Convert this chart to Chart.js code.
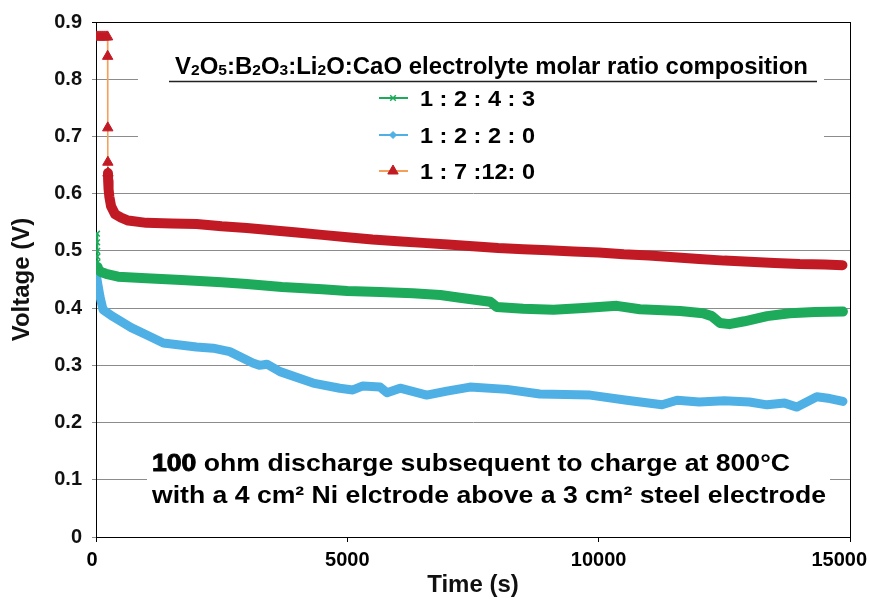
<!DOCTYPE html>
<html>
<head>
<meta charset="utf-8">
<script src="https://cdn.jsdelivr.net/npm/chart.js@4.4.1/dist/chart.umd.min.js"></script>
<style>
  html, body { margin: 0; padding: 0; background: #fff; }
  #wrap { width: 870px; height: 600px; }
</style>
</head>
<body>
<div id="wrap"><canvas id="myCanvas" width="870" height="600"></canvas></div>
<script>
// values (time in s, voltage in V)
const greenTime = [20, 22, 24, 26, 28, 32, 50, 100, 200, 440, 1000, 1700, 2500, 3000, 3700, 4500, 5000, 5650, 6300, 6850, 7240, 7840, 7900, 7970, 8500, 9100, 9700, 10000, 10360, 10820, 11620, 12075, 12250, 12414, 12600, 12900, 13350, 13800, 14300, 14860];
const greenVolt = [0.53, 0.515, 0.5, 0.49, 0.48, 0.472, 0.467, 0.463, 0.46, 0.455, 0.452, 0.449, 0.445, 0.442, 0.437, 0.433, 0.43, 0.428, 0.426, 0.423, 0.418, 0.411, 0.407, 0.402, 0.399, 0.397, 0.4, 0.402, 0.404, 0.398, 0.395, 0.391, 0.386, 0.374, 0.372, 0.377, 0.386, 0.391, 0.393, 0.394];

const blueTime = [0, 40, 80, 140, 340, 700, 1010, 1340, 2000, 2330, 2660, 3120, 3250, 3400, 3660, 4320, 4850, 5110, 5310, 5650, 5790, 6050, 6580, 6980, 7440, 8175, 8830, 9830, 10560, 11260, 11560, 12000, 12500, 13000, 13350, 13700, 13945, 14340, 14600, 14860];
const blueVolt = [0.461, 0.44, 0.42, 0.397, 0.385, 0.366, 0.353, 0.339, 0.332, 0.33, 0.324, 0.304, 0.3, 0.302, 0.289, 0.269, 0.26, 0.257, 0.264, 0.262, 0.252, 0.26, 0.248, 0.255, 0.262, 0.258, 0.25, 0.248, 0.239, 0.231, 0.239, 0.236, 0.238, 0.236, 0.231, 0.234, 0.227, 0.245, 0.242, 0.237];

const redTime = [0, 40, 80, 120, 160, 200, 230, 232, 234, 236, 238, 242, 250, 265, 300, 380, 500, 640, 1000, 1500, 2000, 2500, 3000, 3500, 4000, 4500, 5000, 5500, 6000, 6500, 7000, 7500, 8000, 8500, 9000, 9500, 10000, 10500, 11000, 11500, 12000, 12500, 13000, 13500, 14000, 14500, 14850];
const redVolt = [0.874, 0.874, 0.874, 0.874, 0.874, 0.874, 0.874, 0.84, 0.715, 0.655, 0.636, 0.622, 0.608, 0.595, 0.578, 0.564, 0.558, 0.553, 0.549, 0.548, 0.547, 0.543, 0.54, 0.536, 0.532, 0.528, 0.524, 0.52, 0.517, 0.514, 0.511, 0.508, 0.505, 0.503, 0.501, 0.499, 0.497, 0.494, 0.492, 0.489, 0.486, 0.483, 0.481, 0.479, 0.477, 0.476, 0.475];

const seriesLabels = ['1 : 2 : 4 : 3', '1 : 2 : 2 : 0', '1 : 7 :12: 0'];
const legendTitle = [['V', 0], ['2', 1], ['O', 0], ['5', 1], [':B', 0], ['2', 1], ['O', 0], ['3', 1], [':Li', 0], ['2', 1], ['O:CaO electrolyte molar ratio composition', 0]];
const noteLine1 = [['100', 1], [' ohm discharge subsequent to charge at 800°C', 0]];
const noteLine2 = 'with a 4 cm² Ni elctrode above a 3 cm² steel electrode';

const FONT = "'Liberation Sans', Arial, sans-serif";
const GREEN = '#1daa5a', BLUE = '#4fb0e5', RED = '#c21a24', ORANGE = '#f5a05a';

const toPoints = (ts, vs) => ts.map((t, i) => ({ x: t, y: vs[i] }));

// draw a row of text runs squeezed to a given width
function drawRuns(ctx, runs, x, y, width) {
  let total = 0;
  runs.forEach(r => { ctx.font = r.font; r.w = ctx.measureText(r.text).width; total += r.w; });
  ctx.save();
  ctx.translate(x, y);
  ctx.scale(width / total, 1);
  let cx = 0;
  runs.forEach(r => {
    ctx.font = r.font;
    ctx.fillText(r.text, cx, r.dy || 0);
    if (r.heavy) { ctx.lineWidth = 0.9; ctx.strokeText(r.text, cx, r.dy || 0); }
    cx += r.w;
  });
  ctx.restore();
}

const overlay = {
  id: 'overlay',
  beforeDatasetsDraw(chart) {
    const ctx = chart.ctx;
    const a = chart.chartArea;
    ctx.save();
    // frame
    ctx.strokeStyle = '#000';
    ctx.lineWidth = 1;
    ctx.strokeRect(Math.round(a.left) + 0.5, Math.round(a.top) + 0.5, Math.round(a.right - a.left), Math.round(a.bottom - a.top));

    // legend box
    ctx.fillStyle = '#fff';
    ctx.fillRect(138, 40, 686, 148);
    ctx.fillStyle = '#000';
    ctx.textBaseline = 'alphabetic';
    ctx.textAlign = 'left';
    drawRuns(ctx, legendTitle.map(([t, sub]) => ({
      text: t, font: sub ? `bold 15px ${FONT}` : `bold 23px ${FONT}`, dy: sub ? 1 : 0
    })), 175, 74, 633);
    ctx.strokeStyle = '#222';
    ctx.lineWidth = 1.5;
    ctx.beginPath(); ctx.moveTo(169, 81.5); ctx.lineTo(817, 81.5); ctx.stroke();

    const rows = [98, 135, 171];
    const lineCols = [GREEN, BLUE, ORANGE];
    const marks = [
      { pointStyle: 'crossRot', radius: 4, borderWidth: 1.5, fill: GREEN, stroke: GREEN },
      { pointStyle: 'rectRot', radius: 3.5, borderWidth: 1, fill: BLUE, stroke: BLUE },
      { pointStyle: 'triangle', radius: 6, borderWidth: 1, fill: RED, stroke: RED }
    ];
    rows.forEach((y, i) => {
      ctx.strokeStyle = lineCols[i];
      ctx.lineWidth = 2;
      ctx.beginPath(); ctx.moveTo(379, y); ctx.lineTo(408, y); ctx.stroke();
      const m = marks[i];
      ctx.fillStyle = m.fill; ctx.strokeStyle = m.stroke; ctx.lineWidth = m.borderWidth;
      Chart.helpers.drawPoint(ctx, m, 393, y);
      ctx.fillStyle = '#000';
      drawRuns(ctx, [{ text: seriesLabels[i], font: `bold 22px ${FONT}` }], 420, y + 8, 115);
    });

    // note box
    ctx.fillStyle = '#fff';
    ctx.fillRect(147, 442, 683, 80);
    ctx.fillStyle = '#000';
    ctx.strokeStyle = '#000';
    drawRuns(ctx, noteLine1.map(([t, heavy]) => ({ text: t, font: `bold 24px ${FONT}`, heavy: !!heavy })), 152, 471, 638);
    drawRuns(ctx, [{ text: noteLine2, font: `bold 24px ${FONT}` }], 152, 503, 674);

    // x tick labels, kept inside the canvas like the original
    const xs = chart.scales.x;
    ctx.font = `bold 20px ${FONT}`;
    ctx.textAlign = 'center';
    ctx.textBaseline = 'middle';
    xs.ticks.forEach(t => {
      const label = String(t.value);
      const w = ctx.measureText(label).width;
      let cx = xs.getPixelForValue(t.value);
      if (cx + w / 2 > 867) cx = 867 - w / 2;
      if (t.value === 0) cx -= 4;
      ctx.fillText(label, cx, 560);
    });
    ctx.restore();
  }
};

const ctx = document.getElementById('myCanvas').getContext('2d');

new Chart(ctx, {
  type: 'line',
  data: {
    datasets: [
      {
        label: seriesLabels[0],
        data: toPoints(greenTime, greenVolt),
        borderColor: GREEN,
        borderWidth: 10,
        pointStyle: 'crossRot',
        pointBorderColor: GREEN,
        pointBackgroundColor: GREEN,
        pointBorderWidth: 1.5,
        pointRadius: c => (c.raw && c.raw.y > 0.468 ? 4 : 0),
        segment: {
          borderWidth: c => (c.p0.parsed.y > 0.475 ? 2 : 10)
        }
      },
      {
        label: seriesLabels[1],
        data: toPoints(blueTime, blueVolt),
        borderColor: BLUE,
        borderWidth: 9,
        pointRadius: 0
      },
      {
        label: seriesLabels[2],
        data: toPoints(redTime, redVolt),
        borderColor: RED,
        borderWidth: 10,
        pointStyle: 'triangle',
        pointBackgroundColor: RED,
        pointBorderColor: RED,
        pointBorderWidth: 1,
        pointRadius: c => (c.raw && c.raw.y > 0.63 ? 6 : 0),
        segment: {
          borderWidth: c => (c.p0.parsed.y > 0.64 ? 1.5 : 10),
          borderColor: c => (c.p0.parsed.y > 0.64 ? ORANGE : RED)
        }
      }
    ]
  },
  options: {
    responsive: false,
    devicePixelRatio: 1,
    animation: false,
    events: [],
    layout: { padding: { top: 21, right: 20, left: 0, bottom: 0 } },
    elements: {
      line: { tension: 0, borderJoinStyle: 'round', borderCapStyle: 'round', fill: false }
    },
    plugins: {
      legend: { display: false },
      tooltip: { enabled: false }
    },
    scales: {
      x: {
        type: 'linear',
        min: 0,
        max: 15000,
        ticks: { stepSize: 5000, display: false },
        grid: { drawOnChartArea: false, drawTicks: true, tickLength: 5, color: '#000' },
        border: { color: '#000', width: 1 },
        title: {
          display: true,
          text: 'Time (s)',
          color: '#111',
          font: { family: FONT, size: 24, weight: 'bold' },
          padding: { top: 0, bottom: 0 }
        },
        afterFit: s => { s.height = 63; s.paddingLeft = 0; s.paddingRight = 0; }
      },
      y: {
        min: 0,
        max: 0.9,
        ticks: {
          stepSize: 0.1,
          padding: 10,
          color: '#111',
          font: { family: FONT, size: 20, weight: 'bold' },
          callback: v => (v === 0 ? '0' : v.toFixed(1))
        },
        grid: {
          color: c => (c.tick && c.tick.value > 0.85 ? '#000' : '#8c8c8c'),
          tickLength: 4,
          lineWidth: 1
        },
        border: { color: '#000', width: 1 },
        title: {
          display: true,
          text: 'Voltage (V)',
          color: '#111',
          font: { family: FONT, size: 24, weight: 'bold' },
          padding: { top: 8, bottom: 0 }
        },
        afterFit: s => { s.width = 96; }
      }
    }
  },
  plugins: [overlay]
});
</script>
</body>
</html>
